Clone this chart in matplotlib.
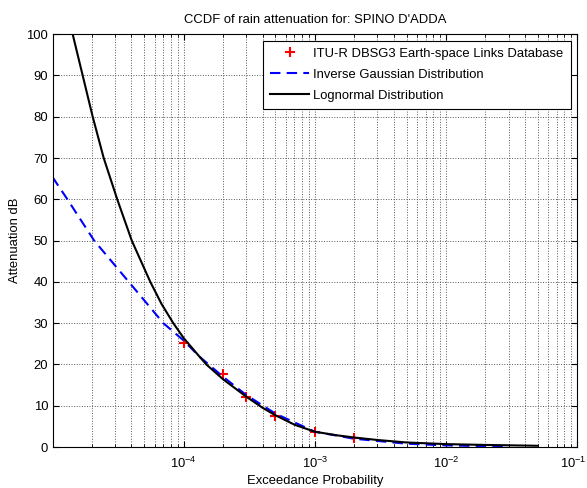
import matplotlib
matplotlib.use('Agg')
import matplotlib.pyplot as plt
from matplotlib.ticker import LogLocator, NullFormatter
from matplotlib.transforms import ScaledTranslation

plt.rcParams['font.family'] = ['Liberation Sans', 'DejaVu Sans']
plt.rcParams['mathtext.fontset'] = 'custom'
plt.rcParams['mathtext.rm'] = 'Liberation Sans'
plt.rcParams['mathtext.it'] = 'Liberation Sans'

# measured points (ITU-R DBSG3)
p_meas = [1e-4, 2e-4, 3e-4, 5e-4, 1e-3, 2e-3]
a_meas = [25.2, 17.7, 12.2, 7.5, 3.6, 2.2]

# inverse gaussian fit
p_ig = [1.0e-5, 1.3e-5, 2.08e-5, 3.82e-5, 7.0e-5, 1e-4, 1.32e-4, 2e-4, 3e-4,
        5e-4, 1e-3, 2e-3, 5e-3, 1e-2, 2e-2, 3e-2]
a_ig = [65.4, 60, 50, 40, 30, 25.8, 21.9, 17.0, 12.6, 8.1, 3.7, 2.0, 0.8, 0.4,
        0.2, 0.1]

# lognormal fit
p_ln = [1.426e-5, 1.70e-5, 2.027e-5, 2.459e-5, 3.118e-5, 4.024e-5, 5.57e-5,
        6.8e-5, 8.34e-5, 1e-4, 1.32e-4, 1.5e-4, 2e-4, 3e-4, 4e-4, 5e-4, 7e-4,
        1e-3, 1.5e-3, 2e-3, 3e-3, 5e-3, 1e-2, 2e-2, 5e-2]
a_ln = [100, 90, 80, 70, 60, 50, 40, 34.6, 30, 26.4, 21.9, 19.9, 16.4, 12.2,
        9.5, 7.7, 5.4, 3.7, 2.8, 2.3, 1.7, 1.1, 0.7, 0.5, 0.3]

fig = plt.figure(figsize=(5.87, 4.88), dpi=100)
ax = fig.add_axes([0.0903, 0.084, 0.893, 0.846])

ax.plot(p_meas, a_meas, '+', color='red', markersize=7, markeredgewidth=1.5,
        label='ITU-R DBSG3 Earth-space Links Database')
ax.plot(p_ig, a_ig, '--', color='blue', linewidth=1.5, dashes=(5, 3),
        label='Inverse Gaussian Distribution')
ax.plot(p_ln, a_ln, '-', color='black', linewidth=1.5,
        label='Lognormal Distribution')

ax.set_xscale('log')
ax.set_xlim(1.01e-5, 1e-1)
ax.set_ylim(0, 100)
ax.set_xticks([1e-4, 1e-3, 1e-2, 1e-1])
ax.xaxis.set_minor_locator(LogLocator(base=10, subs=range(2, 10), numticks=20))
ax.xaxis.set_minor_formatter(NullFormatter())
ax.set_yticks(range(0, 101, 10))

ax.grid(True, which='major', linestyle=':', color='0.35', linewidth=0.7)
ax.grid(True, which='minor', axis='x', linestyle=':', color='0.35', linewidth=0.7)
ax.tick_params(which='both', direction='in', top=True, right=True, labelsize=9.4)
ax.tick_params(which='major', length=4)
ax.tick_params(which='minor', length=2)
ax.tick_params(axis='x', pad=6)
for s in ax.spines.values():
    s.set_linewidth(0.8)

# keep the last tick label inside the figure
last = ax.get_xticklabels()[-1]
last.set_transform(last.get_transform() + ScaledTranslation(-4 / 100, 0, fig.dpi_scale_trans))

ax.set_title("CCDF of rain attenuation for: SPINO D'ADDA", fontsize=9.4, pad=8)
ax.set_xlabel('Exceedance Probability', fontsize=9.4, labelpad=3)
ax.set_ylabel('Attenuation dB', fontsize=9.4, labelpad=4)

leg = ax.legend(loc='upper right', fontsize=9.4, fancybox=False, framealpha=1,
                edgecolor='black', borderaxespad=0.5, handlelength=3.0,
                handletextpad=0.3, labelspacing=0.68, borderpad=0.55)
leg.get_frame().set_linewidth(0.8)

fig.savefig('out.png', dpi=100)
